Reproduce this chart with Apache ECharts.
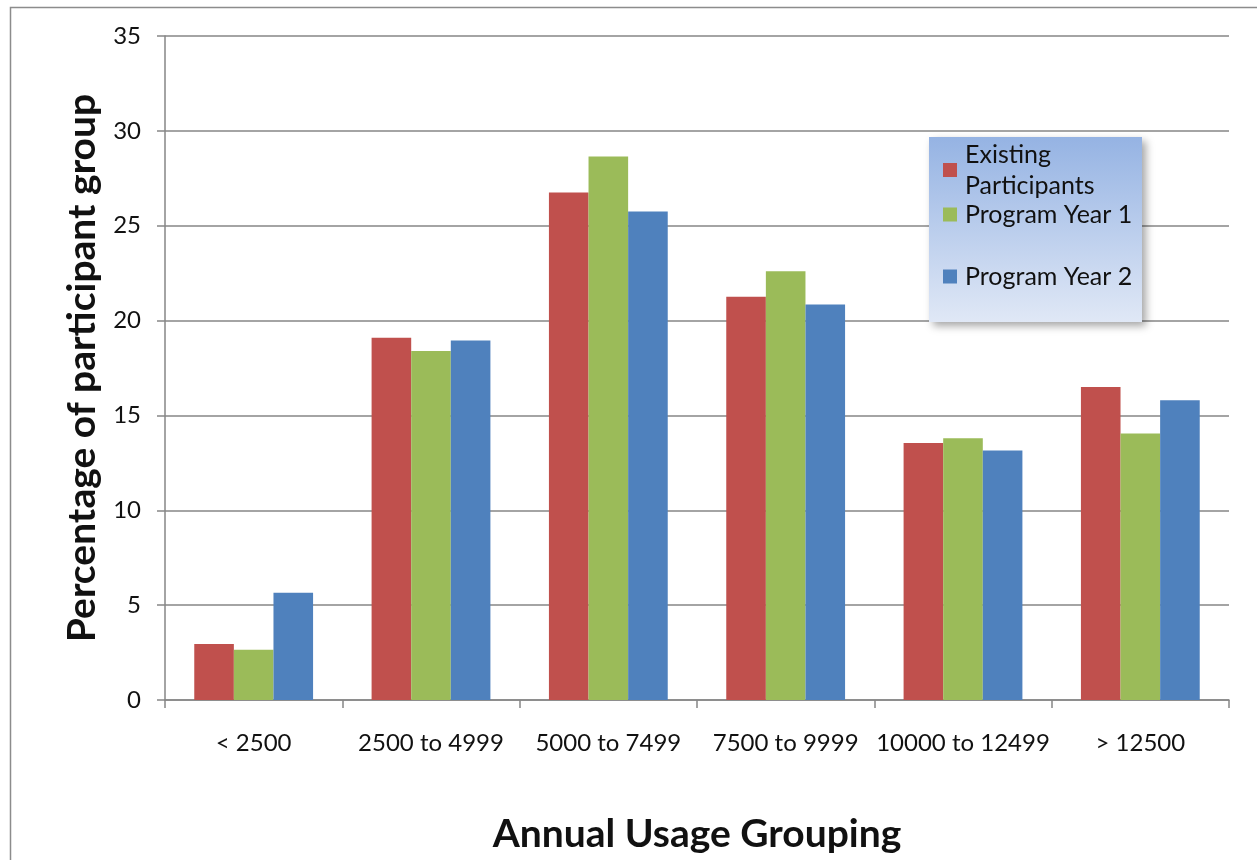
<!DOCTYPE html>
<html>
<head>
<meta charset="utf-8">
<script src="https://cdn.jsdelivr.net/npm/echarts@6/dist/echarts.min.js"></script>
<style>
  html, body { margin: 0; padding: 0; background: #fff; }
  #chart { width: 1257px; height: 860px; }
</style>
</head>
<body>
<div id="chart"></div>
<script>
const categories = ['< 2500', '2500 to 4999', '5000 to 7499', '7500 to 9999', '10000 to 12499', '> 12500']
const existing = [2.95, 19.1, 26.75, 21.25, 13.55, 16.5]
const year1 = [2.65, 18.4, 28.65, 22.6, 13.8, 14.05]
const year2 = [5.65, 18.95, 25.75, 20.85, 13.15, 15.8]
const seriesNames = ['Existing Participants', 'Program Year 1', 'Program Year 2']
const colors = ['#c0504d', '#9bbb59', '#4f81bd']

const font = 'Lato, "Open Sans", sans-serif'
const axisGray = '#868686'

const chart = echarts.init(document.getElementById('chart'))

function legendAt(name, top, label) {
  return {
    data: [name],
    left: 943,
    top: top,
    z: 20,
    orient: 'vertical',
    itemWidth: 14,
    itemHeight: 14,
    icon: 'rect',
    padding: 0,
    selectedMode: false,
    formatter: () => label,
    textStyle: { fontFamily: font, fontSize: 25, color: '#111', lineHeight: 31, padding: [0, 0, 0, 3] }
  }
}

const option = {
  animation: false,
  backgroundColor: '#fff',
  color: colors,
  grid: { left: 165, right: 28, top: 36, bottom: 160, containLabel: false, outerBoundsMode: 'none' },
  graphic: [
    {
      type: 'rect', left: 8, top: 5, z: -10,
      shape: { width: 1300, height: 900 },
      style: { fill: 'none', stroke: '#8c8c8c', lineWidth: 1.5 }
    },
    {
      type: 'rect', left: 929, top: 137, z: 10,
      shape: { width: 213, height: 185 },
      style: {
        fill: new echarts.graphic.LinearGradient(0, 0, 0, 1, [
          { offset: 0, color: '#95b3e3' },
          { offset: 1, color: '#e0e8f6' }
        ]),
        shadowBlur: 8, shadowOffsetX: 4, shadowOffsetY: 4, shadowColor: 'rgba(0,0,0,0.35)'
      }
    }
  ],
  legend: [
    legendAt(seriesNames[0], 139, 'Existing\nParticipants'),
    legendAt(seriesNames[1], 199, 'Program Year 1'),
    legendAt(seriesNames[2], 261, 'Program Year 2')
  ],
  xAxis: {
    type: 'category',
    data: categories,
    name: 'Annual Usage Grouping',
    nameLocation: 'middle',
    nameGap: 115,
    nameTextStyle: { fontFamily: font, fontSize: 39, fontWeight: 'bold', color: '#111' },
    axisLine: { lineStyle: { color: axisGray, width: 1.5 } },
    axisTick: { show: true, length: 8, lineStyle: { color: axisGray, width: 1.5 } },
    axisLabel: { fontFamily: font, fontSize: 24, color: '#111', margin: 31, interval: 0 },
    splitLine: { show: false }
  },
  yAxis: {
    type: 'value',
    min: 0, max: 35, interval: 5,
    name: 'Percentage of participant group',
    nameLocation: 'middle',
    nameGap: 60,
    nameTextStyle: { fontFamily: font, fontSize: 39, fontWeight: 'bold', color: '#111' },
    axisLine: { show: true, lineStyle: { color: axisGray, width: 1.5 } },
    axisTick: { show: true, length: 8, lineStyle: { color: axisGray, width: 1.5 } },
    axisLabel: { fontFamily: font, fontSize: 24, color: '#111', margin: 24 },
    splitLine: { lineStyle: { color: axisGray, width: 1.5 } }
  },
  series: [
    { name: seriesNames[0], type: 'bar', data: existing, barGap: '0%', barCategoryGap: '33%' },
    { name: seriesNames[1], type: 'bar', data: year1, barGap: '0%', barCategoryGap: '33%' },
    { name: seriesNames[2], type: 'bar', data: year2, barGap: '0%', barCategoryGap: '33%' }
  ]
}

chart.setOption(option)
</script>
</body>
</html>
